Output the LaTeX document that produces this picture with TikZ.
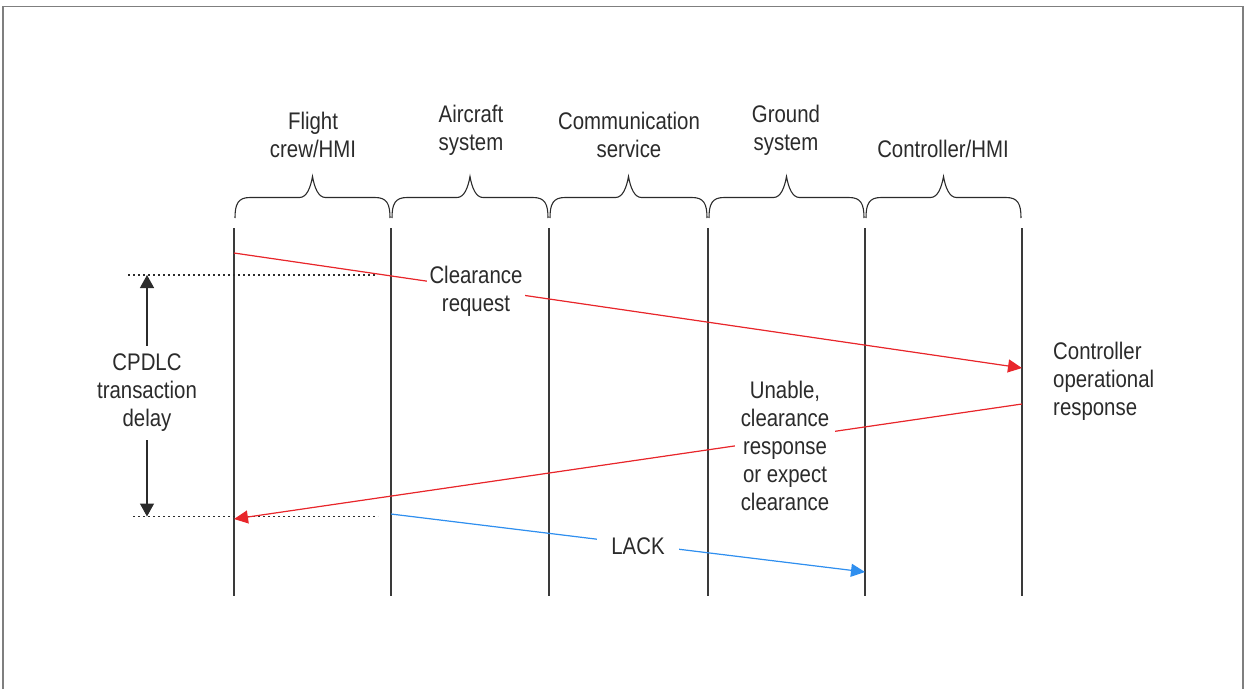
\documentclass[tikz,border=0pt]{standalone}
\usepackage{fontspec}
\setmainfont{Liberation Sans}[FakeStretch=0.85]
\usetikzlibrary{arrows.meta}
\definecolor{inkgray}{HTML}{2B2B2B}
\definecolor{framegray}{HTML}{7F7F7F}
\definecolor{lifegray}{HTML}{3A3A3A}
\definecolor{msgred}{HTML}{E8262B}
\definecolor{msgblue}{HTML}{2F8FEF}
\begin{document}
\begin{tikzpicture}[x=1pt,y=-1pt,
  txt/.style={text=inkgray,font=\fontsize{24}{28}\selectfont,align=center,inner sep=3pt},
  lbl/.style={txt,fill=white},
  lifeline/.style={draw=lifegray,line width=1.1pt},
  bracepath/.style={draw=inkgray,line width=1.1pt},
  reqmsg/.style={draw=msgred,line width=1.2pt,-{Triangle[length=14pt,width=13pt]},fill=msgred},
  ackmsg/.style={draw=msgblue,line width=1.2pt,-{Triangle[length=14pt,width=13pt]},fill=msgblue},
  guide/.style={draw=inkgray,line width=1.3pt,dash pattern=on 2pt off 3pt},
  span/.style={draw=inkgray,line width=1.3pt,{Triangle[length=13pt,width=14pt]}-{Triangle[length=13pt,width=14pt]},fill=inkgray}]
\useasboundingbox (0,0) rectangle (1245,689);

% open frame
\draw[framegray,line width=1.2pt] (3,689) -- (3,6.5) -- (1243,6.5) -- (1243,689);

% lifelines
\foreach \n/\x in {fc/234,ac/391,cs/549,gs/708,ct/865,ch/1022}{
  \coordinate (\n-top) at (\x,228);
  \coordinate (\n-bot) at (\x,596);
  \draw[lifeline] (\n-top) -- (\n-bot);
}

% braces over each column
\foreach \a/\b in {234/391,391/549,549/708,708/865,865/1022}{
  \pgfmathsetmacro{\m}{(\a+\b)/2}
  \draw[bracepath] (\a+1,218) .. controls (\a+1,204) and (\a+4,197.5) .. (\a+16,197.5)
    -- (\m-13,197.5) .. controls (\m-6,197.5) and (\m-2,188) .. (\m,176.5)
    .. controls (\m+2,188) and (\m+6,197.5) .. (\m+13,197.5)
    -- (\b-16,197.5) .. controls (\b-4,197.5) and (\b-1,204) .. (\b-1,218);
}

% column headings
\node[txt] (h-fc) at (313,134.5) {Flight\\crew/HMI};
\node[txt] (h-ac) at (471,130) {Aircraft\\system};
\node[txt] (h-cs) at (629,134.5) {Communication\\service};
\node[txt] (h-gs) at (786,130) {Ground\\system};
\node[txt] (h-ch) at (943,149) {Controller/HMI};

% message end points
\coordinate (req-s) at (234,253);
\coordinate (req-e) at (1022,368);
\coordinate (rsp-s) at (1022,404);
\coordinate (rsp-e) at (234,519);
\coordinate (ack-s) at (391,514);
\coordinate (ack-e) at (865,572);

% transaction delay markers
\coordinate (dl-top-a) at (128,275);
\coordinate (dl-top-b) at (376,275);
\coordinate (dl-bot-a) at (133,516.5);
\coordinate (dl-bot-b) at (378,516.5);
\coordinate (dl-top) at (147,275);
\coordinate (dl-bot) at (147,516.5);
\draw[guide] (dl-top-a) -- (dl-top-b);
\draw[guide] (dl-bot-a) -- (dl-bot-b);

% messages
\draw[reqmsg] (req-s) -- (req-e);
\draw[reqmsg] (rsp-s) -- (rsp-e);
\draw[ackmsg] (ack-s) -- (ack-e);
\draw[span] (dl-top) -- (dl-bot);

% labels
\node[lbl] (l-req) at (476,291) {Clearance\\request};
\node[lbl,inner xsep=6pt] (l-rsp) at (785,446) {Unable,\\clearance\\response\\or expect\\clearance};
\node[lbl,inner xsep=14pt,inner ysep=6pt] (l-ack) at (638,546) {LACK};
\node[lbl,inner ysep=8pt] (l-dl) at (147,393) {CPDLC\\transaction\\delay};
\node[txt,align=left,anchor=west] (l-op) at (1050,381) {Controller\\operational\\response};
\end{tikzpicture}
\end{document}
